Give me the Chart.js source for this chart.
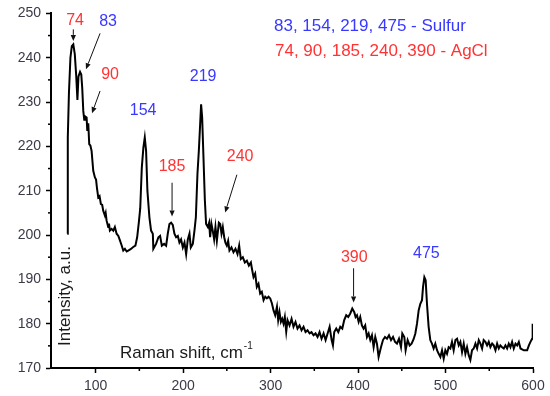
<!DOCTYPE html>
<html>
<head>
<meta charset="utf-8">
<script src="https://cdn.jsdelivr.net/npm/chart.js@4.4.1/dist/chart.umd.min.js"></script>
<style>
  html, body { margin: 0; padding: 0; background: #fff; }
  #wrap { width: 550px; height: 396px; }
</style>
</head>
<body>
<div id="wrap"><canvas id="raman"></canvas></div>
<script>
// ================= DATA =================
const ramanShift = [
  67.6, 68.2, 69.5, 71.2, 72.8, 74.5, 76.2, 77.8, 79.2, 80.4, 82.2, 83.6, 84.7, 85.9, 87, 87.8, 89.7, 90.5, 91.6, 92.7,
  94, 95.4, 97.3, 99.2, 100.5, 101.6, 103, 104.5, 106, 107.5, 108.7, 110.6, 111.5, 112.5, 114.4, 115.3, 116.3, 118.3, 120.2, 122,
  124, 126, 127.8, 129.7, 131.6, 133.5, 135.5, 137.3, 140, 143, 145.5, 147.5, 149.5, 151, 152.8, 154.6, 156.2, 157.7, 159.2, 161.5,
  163.4, 165.4, 166, 169.1, 171.8, 173.7, 175.7, 178.3, 180.6, 182.5, 184.4, 186.3, 188.2, 190.1, 192, 194, 195.8, 197.7, 199.7, 201.6,
  203.5, 205.4, 207.3, 208.8, 211.1, 213, 214.6, 216.4, 218, 219.5, 220.6, 221.8, 223.3, 224.9, 226.3, 228.3, 229.8, 230.9, 232.4, 233.9,
  235.5, 237, 238.6, 240.9, 242.4, 243.9, 245.4, 247, 248.4, 250, 251.5, 253, 255.3, 257.6, 259.9, 262.2, 264.1, 266, 268.3, 270.6,
  272.9, 275.2, 277.5, 278.6, 280.5, 282.4, 284.3, 286.2, 288.1, 290, 292, 293.9, 295.8, 297.7, 299.6, 301.5, 303.4, 305.3, 307.3, 308.7,
  310.2, 311.8, 313.3, 314.8, 316.3, 317.9, 319.4, 321.7, 324, 326.2, 328.5, 330.8, 333.1, 335.4, 337.7, 340, 342.3, 344.6, 346.8, 349.1,
  351.4, 353.7, 356, 358.3, 360.6, 362.9, 365.2, 367.5, 369.8, 371.3, 372.8, 375.1, 377.4, 379.7, 382, 384.2, 386.5, 388.8, 391.1, 393.4,
  395.7, 397.2, 398.8, 400.7, 402.5, 404.4, 406.3, 408.2, 410.2, 412.1, 414, 415.9, 417.8, 419.7, 421.6, 423.5, 426.2, 428.5, 430.8, 433.1,
  435.4, 437.7, 440, 442.3, 444.5, 446.8, 449.1, 450.6, 452.9, 454.4, 456.7, 459, 461.2, 463.5, 465.5, 467.4, 469.3, 471.2, 473.1, 474.3,
  475.8, 477.3, 478.8, 480.7, 482.6, 484.5, 486.4, 488.3, 490.3, 492.2, 494.1, 496, 497.9, 499.8, 501.7, 503.6, 505.5, 507.4, 509.3, 511.3,
  513.2, 515.1, 517, 518.9, 520.8, 522.7, 524.6, 526.5, 528.4, 530.3, 532.2, 534.2, 536.1, 538, 539.9, 541.8, 543.6, 545.6, 547.5, 549.4,
  551.3, 553.3, 555.1, 557.1, 559, 560.9, 562.7, 564.7, 566.6, 568.5, 570.4, 572.3, 574.2, 576.1, 578, 580, 581.9, 583.8, 585.7, 589.5,
  593.3, 595.3, 597.1, 599, 599.6, 600
];
const intensity = [
  200.3, 222, 232, 240, 242.6, 243, 240.8, 236, 230.5, 235.8, 236.8, 236.2, 233.2, 228, 226, 226.8, 226.5, 223.5, 225.2, 220.5,
  220.2, 219, 214.5, 213, 212.5, 210.5, 208.5, 208.8, 207, 206.8, 205.5, 204.4, 205, 203.3, 201.8, 202.6, 201, 201.4, 201, 201.8,
  200.3, 199.8, 198.8, 197.7, 196.5, 196.9, 196.3, 196.5, 196.8, 197.3, 197.6, 199.5, 203, 206, 215.2, 219.7, 222, 219, 210, 204,
  201, 200.3, 196.9, 198, 199.5, 199.8, 197.6, 198, 197.6, 200.3, 202.5, 202.8, 202.3, 200.3, 199.5, 199.8, 198.3, 199, 197.2, 198.3,
  195.7, 199, 200.3, 197.2, 198, 201, 204, 213.7, 219, 225, 229.5, 226.5, 217.5, 207.8, 202.5, 201.8, 202.8, 199.5, 202.5, 201,
  199, 201.8, 198.7, 202.8, 202.5, 200.3, 201.8, 199.5, 198.3, 197.6, 198.7, 196.5, 197.2, 196.1, 196.9, 195.7, 197.6, 194.6, 195, 193.8,
  194.2, 193.1, 193.8, 192.5, 190.5, 191.3, 188.3, 189, 186.8, 187.2, 185.3, 186.1, 185.7, 186.1, 185.7, 184.6, 183, 181.9, 183.8, 180.8,
  182.6, 180.4, 181.1, 180, 181.5, 178.2, 180.8, 179.6, 181.1, 179.3, 180.4, 178.9, 179.6, 178.5, 179.3, 178.1, 178.5, 177.8, 178.1, 177.4,
  177.8, 177, 178.1, 176.6, 177.8, 176.3, 177.8, 179.3, 176.3, 175.1, 178.1, 178.9, 178.1, 179.3, 178.9, 180.8, 181.9, 181.5, 182.3, 183.4,
  182.6, 181.5, 181.9, 180.4, 181.5, 179.6, 178.9, 179.6, 177, 177.8, 176.3, 177.4, 174.7, 177, 175.5, 172.5, 174.7, 176.3, 177, 176.6,
  177.4, 176.3, 177, 175.9, 175.5, 176.6, 174.7, 177.8, 177, 174, 176.3, 175.1, 175.5, 176.5, 177.8, 180, 183, 184.5, 185.3, 188.3,
  190.5, 189.8, 184.5, 179.3, 176.3, 175.5, 174.4, 175.5, 174, 173.2, 172.5, 174, 172.1, 174, 173.2, 174.7, 174.4, 175.9, 174, 176.3,
  176.6, 175.1, 175.9, 173.6, 175.5, 173.2, 174.7, 172.9, 171.8, 174, 174.4, 175.5, 174.4, 176.3, 175.5, 174.4, 176.3, 175.9, 175.1, 175.9,
  174.7, 175.5, 175.1, 174, 175.5, 174.4, 175.1, 174.7, 174.4, 175.1, 174.4, 175.5, 174.7, 175.9, 174.4, 175.5, 175.1, 175.9, 174.4, 174,
  174, 175.1, 175.9, 176.6, 180, 178
];
const xTicks = [100, 200, 300, 400, 500, 600];
const xMinor = [150, 250, 350, 450, 550];
const yTicks = [170, 180, 190, 200, 210, 220, 230, 240, 250];
const yMinor = [175, 185, 195, 205, 215, 225, 235, 245];

const sulfurPeaks = [83, 154, 219, 475];
const agclPeaks = [74, 90, 185, 240, 390];

const RED = '#ff3333';
const BLUE = '#3838ff';
const FONT = "'Liberation Sans', Arial, sans-serif";

// posisi teks penanda puncak (koordinat data) + panah opsional
const notes = [
  { peak: 74,  color: RED,  x: 76.5,  y: 248.4, arrow: [74.5, 246.4, 74.5, 243.8] },
  { peak: 83,  color: BLUE, x: 114.2, y: 248.2, arrow: [105.1, 245.5, 89, 237.4] },
  { peak: 90,  color: RED,  x: 116.5, y: 236.3, arrow: [105.1, 232.5, 95.9, 227.5] },
  { peak: 154, color: BLUE, x: 154.3, y: 228 },
  { peak: 219, color: BLUE, x: 222.9, y: 235.8 },
  { peak: 185, color: RED,  x: 187.4, y: 215.4, arrow: [187.4, 211.8, 187.4, 204.2] },
  { peak: 240, color: RED,  x: 265.2, y: 217.6, arrow: [261.5, 213.6, 248.1, 205.1] },
  { peak: 390, color: RED,  x: 395.7, y: 194.9, arrow: [394.9, 192.5, 394.9, 184.8] },
  { peak: 475, color: BLUE, x: 478.1, y: 195.8 }
];

// ================= PLUGIN GAMBAR =================
function drawArrow(ctx, x1, y1, x2, y2) {
  const ang = Math.atan2(y2 - y1, x2 - x1);
  const head = 6, half = 2.6;
  ctx.beginPath();
  ctx.moveTo(x1, y1);
  ctx.lineTo(x2 - Math.cos(ang) * head, y2 - Math.sin(ang) * head);
  ctx.stroke();
  ctx.beginPath();
  ctx.moveTo(x2, y2);
  ctx.lineTo(x2 - Math.cos(ang) * head - Math.sin(ang) * half, y2 - Math.sin(ang) * head + Math.cos(ang) * half);
  ctx.lineTo(x2 - Math.cos(ang) * head + Math.sin(ang) * half, y2 - Math.sin(ang) * head - Math.cos(ang) * half);
  ctx.closePath();
  ctx.fill();
}

const decorPlugin = {
  id: 'decor',
  afterDraw(chart) {
    const ctx = chart.ctx;
    const xs = chart.scales.x, ys = chart.scales.y;
    const area = chart.chartArea;
    ctx.save();

    // minor ticks
    ctx.strokeStyle = '#000';
    ctx.lineWidth = 1.5;
    xMinor.forEach(v => {
      const px = xs.getPixelForValue(v);
      ctx.beginPath(); ctx.moveTo(px, area.bottom); ctx.lineTo(px, area.bottom + 3); ctx.stroke();
    });
    yMinor.forEach(v => {
      const py = ys.getPixelForValue(v);
      ctx.beginPath(); ctx.moveTo(area.left, py); ctx.lineTo(area.left - 3, py); ctx.stroke();
    });

    // label puncak + panah
    ctx.lineWidth = 1;
    notes.forEach(n => {
      if (n.arrow) {
        ctx.strokeStyle = '#111';
        ctx.fillStyle = '#111';
        drawArrow(ctx,
          xs.getPixelForValue(n.arrow[0]), ys.getPixelForValue(n.arrow[1]),
          xs.getPixelForValue(n.arrow[2]), ys.getPixelForValue(n.arrow[3]));
      }
    });
    ctx.font = '16px ' + FONT;
    ctx.textAlign = 'center';
    ctx.textBaseline = 'middle';
    notes.forEach(n => {
      ctx.fillStyle = n.color;
      ctx.fillText(String(n.peak), xs.getPixelForValue(n.x), ys.getPixelForValue(n.y));
    });

    // keterangan
    ctx.textAlign = 'left';
    ctx.font = '17px ' + FONT;
    ctx.fillStyle = BLUE;
    ctx.fillText(sulfurPeaks.join(', ') + ' - Sulfur', area.left + 223, area.top + 13);
    ctx.fillStyle = RED;
    ctx.fillText(agclPeaks.join(', ') + ' - AgCl', area.left + 224, area.top + 38);

    // judul sumbu (di dalam area plot)
    ctx.fillStyle = '#1a1a1a';
    ctx.font = '17px ' + FONT;
    const xt = 'Raman shift, cm';
    const tx = area.left + 69, ty = area.bottom - 15;
    ctx.fillText(xt, tx, ty);
    const w = ctx.measureText(xt).width;
    ctx.font = '10px ' + FONT;
    ctx.fillText('-1', tx + w + 1, ty - 7);

    ctx.font = '17px ' + FONT;
    ctx.translate(area.left + 14, area.bottom - 72);
    ctx.rotate(-Math.PI / 2);
    ctx.textAlign = 'center';
    ctx.fillText('Intensity, a.u.', 0, 0);

    ctx.restore();
  }
};

// ================= CHART =================
const points = ramanShift.map((x, i) => ({ x: x, y: intensity[i] }));

new Chart(document.getElementById('raman').getContext('2d'), {
  type: 'line',
  data: {
    datasets: [{
      data: points,
      borderColor: '#000',
      borderWidth: 2,
      pointRadius: 0,
      tension: 0,
      fill: false
    }]
  },
  options: {
    responsive: true,
    maintainAspectRatio: false,
    animation: false,
    layout: { padding: { left: 0, right: 17, top: 12, bottom: 0 } },
    plugins: { legend: { display: false }, tooltip: { enabled: false } },
    scales: {
      x: {
        type: 'linear',
        min: 49,
        max: 600,
        afterBuildTicks: s => { s.ticks = xTicks.map(v => ({ value: v })); },
        afterFit: s => { s.height = 28; },
        grid: { display: true, drawOnChartArea: false, drawTicks: true, tickLength: 5, tickColor: '#000', tickWidth: 1.5 },
        border: { display: true, color: '#000', width: 2 },
        ticks: { padding: 5, color: '#3a3a48', font: { family: FONT, size: 14 }, maxRotation: 0 }
      },
      y: {
        min: 170,
        max: 250,
        afterBuildTicks: s => { s.ticks = yTicks.map(v => ({ value: v })); },
        afterFit: s => { s.width = 51; },
        grid: { display: true, drawOnChartArea: false, drawTicks: true, tickLength: 5, tickColor: '#000', tickWidth: 1.5 },
        border: { display: true, color: '#000', width: 2 },
        ticks: { padding: 5, color: '#3a3a48', font: { family: FONT, size: 14 } }
      }
    }
  },
  plugins: [decorPlugin]
});
</script>
</body>
</html>
